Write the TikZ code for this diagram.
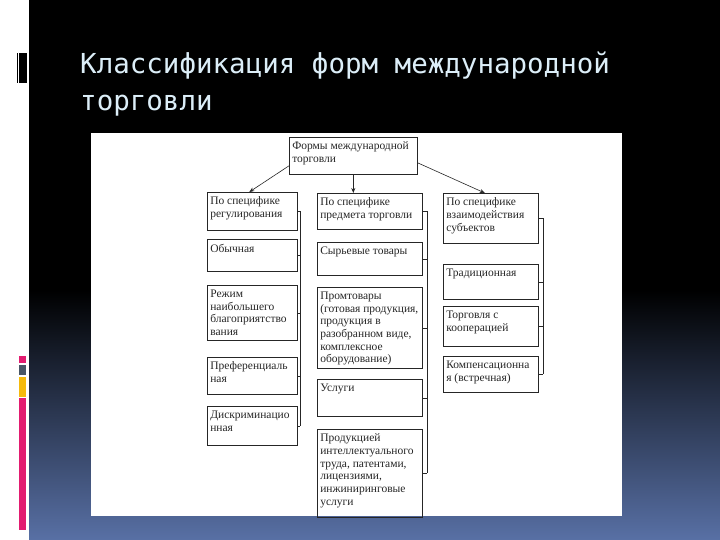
\documentclass[tikz,border=0pt]{standalone}
\usepackage{fontspec}
\setmainfont{Liberation Serif}
\newfontfamily\titlefont{DejaVu Sans Mono}
\usetikzlibrary{arrows.meta}
\definecolor{slideblue}{RGB}{88,112,165}
\definecolor{titletext}{RGB}{220,238,248}
\definecolor{accpink}{RGB}{226,28,112}
\definecolor{accgray}{RGB}{72,86,102}
\definecolor{accyellow}{RGB}{245,186,12}
\newcommand{\celltxt}[3]{\parbox[c][\dimexpr#2pt-9pt\relax][t]{\dimexpr#1pt-6pt\relax}{\raggedright #3}}
\tikzset{
    cell/.style={draw=black!85, line width=.6pt, anchor=north west,
    	inner xsep=3pt, inner ysep=4.5pt, text=black!85,
    	font=\fontsize{11.5}{12.7}\selectfont}
}
\tikzset{
    title/.style={anchor=base west, inner sep=0pt, text=titletext,
    	font=\titlefont\fontsize{27.5}{37}\selectfont}
}
\tikzset{
    every edge/.append style={draw=black!85, line width=.6pt},
    arr/.style={draw=black!85, line width=.6pt, -{Stealth[length=5pt,width=4pt]}}
}

\begin{document}
\begin{tikzpicture}[x=1pt,y=-1pt]
	\useasboundingbox (0,0) rectangle (720,540);
	\fill[white] (0,0) rectangle (720,540);
	\fill[black] (29,0) rectangle (720,540);
	\shade[top color=black, bottom color=slideblue] (29,290) rectangle (720,540);

	% left strip
	\fill[black] (17,53) rectangle (27,83);
	\draw[white, line width=.8pt] (18.8,53) -- (18.8,83);
	\fill[accpink] (19,356) rectangle (26,363);
	\fill[accgray] (19,365) rectangle (26,375);
	\fill[accyellow] (19,377) rectangle (26,397);
	\fill[accpink] (19,398) rectangle (26,530);

	\node[title] (t1) at (80,74) {Классификация форм международной};
	\node[title] (t2) at (80,111) {торговли};

	\fill[white] (91,133) rectangle (622,516);

	\node[cell] (0) at (289,137) {\celltxt{128}{37}{Формы международной\\торговли}};

	\node[cell] (1) at (207,192) {\celltxt{90}{38}{По специфике\\регулирования}};
	\node[cell] (2) at (207,239) {\celltxt{90}{32}{Обычная}};
	\node[cell] (3) at (207,285) {\celltxt{90}{55}{Режим\\наибольшего\\благоприятство\\вания}};
	\node[cell] (4) at (207,357) {\celltxt{90}{37}{Преференциаль\\ная}};
	\node[cell] (5) at (207,406) {\celltxt{90}{39}{Дискриминацио\\нная}};

	\node[cell] (6) at (317,193) {\celltxt{105}{36}{По специфике\\предмета торговли}};
	\node[cell] (7) at (317,242) {\celltxt{105}{33}{Сырьевые товары}};
	\node[cell] (8) at (317,287) {\celltxt{105}{81}{Промтовары\\(готовая продукция,\\продукция в\\разобранном виде,\\комплексное\\оборудование)}};
	\node[cell] (9) at (317,379) {\celltxt{105}{37}{Услуги}};
	\node[cell] (10) at (317,429) {\celltxt{105}{88}{Продукцией\\интеллектуального\\труда, патентами,\\лицензиями,\\инжиниринговые\\услуги}};

	\node[cell] (11) at (443,193) {\celltxt{95}{50}{По специфике\\взаимодействия\\субъектов}};
	\node[cell] (12) at (443,264) {\celltxt{95}{35}{Традиционная}};
	\node[cell] (13) at (443,306) {\celltxt{95}{40}{Торговля с\\кооперацией}};
	\node[cell] (14) at (443,356) {\celltxt{95}{36}{Компенсационна\\я (встречная)}};

	\draw[arr] ([yshift=-10pt]0.west) -- ([xshift=-3pt]1.north);
	\draw[arr] (0.south) -- (0.south |- 6.north);
	\draw[arr] ([yshift=-7pt]0.east) -- ([xshift=-6pt]11.north);

	\coordinate (b1) at (300,0);
	\coordinate (b2) at (427,0);
	\coordinate (b3) at (543,0);

	\draw (1.east) edge (1.east -| b1); \draw (2.east) edge (2.east -| b1);
	\draw (3.east) edge (3.east -| b1); \draw (4.east) edge (4.east -| b1);
	\draw (5.east) edge (5.east -| b1);
	\draw (1.east -| b1) edge (5.east -| b1);

	\draw (6.east) edge (6.east -| b2); \draw (7.east) edge (7.east -| b2);
	\draw (8.east) edge (8.east -| b2); \draw (9.east) edge (9.east -| b2);
	\draw (10.east) edge (10.east -| b2);
	\draw (6.east -| b2) edge (10.east -| b2);

	\draw (11.east) edge (11.east -| b3); \draw (12.east) edge (12.east -| b3);
	\draw (13.east) edge (13.east -| b3); \draw (14.east) edge (14.east -| b3);
	\draw (11.east -| b3) edge (14.east -| b3);
\end{tikzpicture}
\end{document}
